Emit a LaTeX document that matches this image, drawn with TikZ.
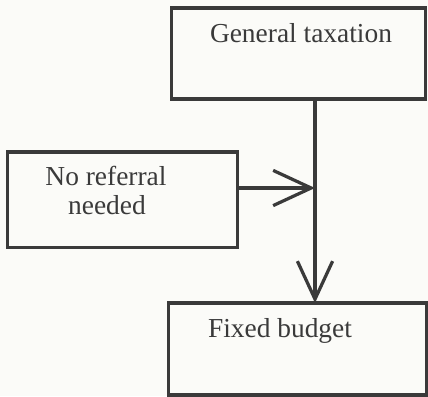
\documentclass[tikz,border=0pt]{standalone}
\usepackage{fontspec}
\setmainfont{Liberation Serif}
\usetikzlibrary{arrows.meta}
\definecolor{ink}{HTML}{3A3A3A}
\definecolor{paper}{HTML}{FBFBF8}
\tikzset{%
  >={Straight Barb[length=0.95cm,width=0.88cm]}, % open v-shaped tips
  box/.style={draw=ink,line width=2.3pt,inner sep=0pt},%
  word/.style={anchor=base,inner sep=0pt,text=ink,
    font=\fontsize{19.5}{23}\selectfont}%
}
\begin{document}
\begin{tikzpicture}[x=0.025cm,y=-0.025cm] % one unit = one pixel

%% canvas

\fill[paper] (0,0) rectangle (428,396);
\useasboundingbox (0,0) rectangle (428,396);

%% boxes

\node[box,minimum width=6.33cm,minimum height=2.28cm] (tax) at (298.5,53.5) {};
\node[box,minimum width=5.73cm,minimum height=2.38cm] (referral) at (122.5,199.5) {};
\node[box,minimum width=6.43cm,minimum height=2.3cm] (budget) at (297.5,349) {};

%% texts

\node[word] (taxtext) at (301,42) {General taxation};
\node[word] (reftextA) at (106,185) {No referral};
\node[word] (reftextB) at (107,214) {needed};
\node[word] (budtext) at (280,337) {Fixed budget};

%% connectors

\coordinate (top) at (315,99);
\coordinate (bottom) at (315,303);
\coordinate (join) at (315,188);
\draw[ink,line width=2.3pt,->] (top) -- (bottom);
\draw[ink,line width=2.3pt,->] (referral.east |- join) -- (join);

\end{tikzpicture}
\end{document}
